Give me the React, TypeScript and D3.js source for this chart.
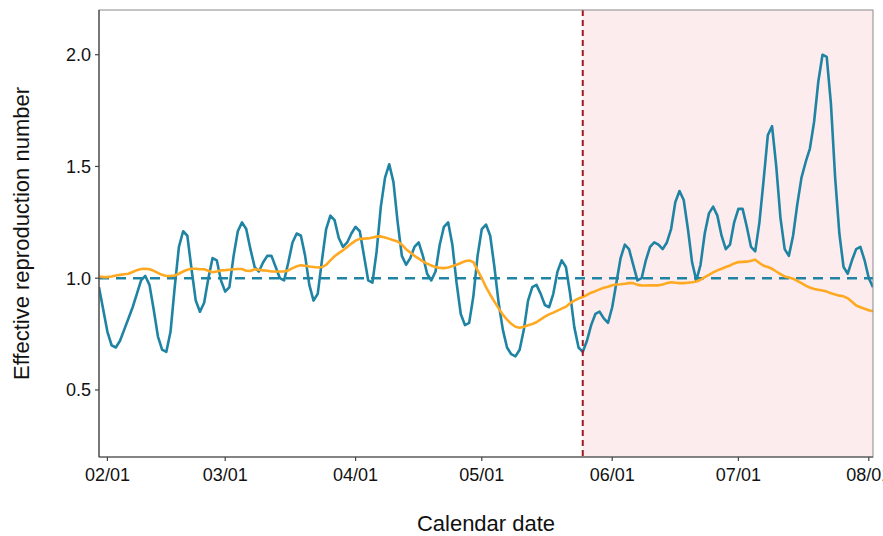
import React from "react";
import * as d3 from "d3";

const startDate = new Date(2021, 0, 30);
const endDate = new Date(2021, 7, 2);
const cutoffDate = new Date(2021, 4, 25);

const tickDates = ["2021-02-01", "2021-03-01", "2021-04-01", "2021-05-01", "2021-06-01", "2021-07-01", "2021-08-01"];
const yTicks = [0.5, 1.0, 1.5, 2.0];

// daily instantaneous Rt, from 01/30
const rtDaily = [
  0.96, 0.86, 0.76, 0.70, 0.69, 0.72, 0.77, 0.82, 0.87, 0.93,
  0.99, 1.01, 0.97, 0.86, 0.74, 0.68, 0.67, 0.76, 0.96, 1.14,
  1.21, 1.19, 1.04, 0.90, 0.85, 0.89, 1.00, 1.09, 1.08, 0.99,
  0.94, 0.96, 1.10, 1.21, 1.25, 1.22, 1.13, 1.05, 1.03, 1.07,
  1.10, 1.10, 1.05, 1.00, 0.99, 1.07, 1.16, 1.20, 1.19, 1.10,
  0.97, 0.90, 0.93, 1.08, 1.22, 1.28, 1.26, 1.18, 1.14, 1.16,
  1.20, 1.23, 1.21, 1.10, 0.99, 0.98, 1.12, 1.32, 1.45, 1.51,
  1.43, 1.25, 1.10, 1.06, 1.09, 1.14, 1.16, 1.10, 1.02, 0.99,
  1.03, 1.15, 1.23, 1.25, 1.15, 0.98, 0.84, 0.79, 0.80, 0.92,
  1.10, 1.22, 1.24, 1.19, 1.05, 0.89, 0.77, 0.69, 0.66, 0.65,
  0.68, 0.77, 0.90, 0.96, 0.97, 0.93, 0.88, 0.87, 0.93, 1.03,
  1.08, 1.05, 0.93, 0.78, 0.69, 0.67, 0.72, 0.79, 0.84, 0.85,
  0.82, 0.80, 0.87, 0.98, 1.09, 1.15, 1.13, 1.06, 0.99, 1.00,
  1.08, 1.14, 1.16, 1.15, 1.13, 1.16, 1.22, 1.34, 1.39, 1.35,
  1.22, 1.07, 0.99, 1.06, 1.20, 1.29, 1.32, 1.28, 1.19, 1.13,
  1.15, 1.25, 1.31, 1.31, 1.23, 1.14, 1.12, 1.25, 1.44, 1.64,
  1.68, 1.50, 1.27, 1.13, 1.10, 1.19, 1.33, 1.45, 1.52, 1.58,
  1.70, 1.88, 2.00, 1.99, 1.78, 1.45, 1.20, 1.05, 1.02, 1.08,
  1.13, 1.14, 1.08, 1.00, 0.96,
];

// smoothed Rt, from 01/30
const rtSmooth = [
  1.008, 1.005, 1.005, 1.008, 1.012, 1.015, 1.018, 1.020, 1.028, 1.036,
  1.041, 1.042, 1.040, 1.033, 1.024, 1.015, 1.010, 1.010, 1.012, 1.020,
  1.030, 1.038, 1.042, 1.042, 1.040, 1.040, 1.033, 1.027, 1.030, 1.035,
  1.036, 1.038, 1.040, 1.041, 1.041, 1.033, 1.032, 1.040, 1.038, 1.035,
  1.033, 1.030, 1.030, 1.030, 1.030, 1.035, 1.045, 1.053, 1.058, 1.056,
  1.052, 1.050, 1.048, 1.050, 1.060, 1.080, 1.098, 1.112, 1.125, 1.140,
  1.155, 1.168, 1.176, 1.177, 1.178, 1.182, 1.186, 1.187, 1.182, 1.176,
  1.170, 1.164, 1.150, 1.130, 1.115, 1.100, 1.088, 1.075, 1.065, 1.057,
  1.050, 1.046, 1.045, 1.048, 1.054, 1.060, 1.068, 1.076, 1.079, 1.072,
  1.035, 1.000, 0.960, 0.926, 0.895, 0.865, 0.837, 0.815, 0.796, 0.783,
  0.778, 0.783, 0.789, 0.795, 0.803, 0.816, 0.828, 0.838, 0.846, 0.855,
  0.864, 0.872, 0.888, 0.900, 0.909, 0.916, 0.925, 0.935, 0.942, 0.950,
  0.957, 0.962, 0.968, 0.972, 0.973, 0.975, 0.978, 0.978, 0.970, 0.968,
  0.967, 0.968, 0.968, 0.968, 0.972, 0.978, 0.982, 0.980, 0.978, 0.978,
  0.980, 0.982, 0.985, 0.993, 1.005, 1.015, 1.026, 1.035, 1.042, 1.050,
  1.057, 1.066, 1.072, 1.073, 1.074, 1.078, 1.083, 1.068, 1.056, 1.050,
  1.042, 1.030, 1.018, 1.008, 1.003, 0.998, 0.988, 0.978, 0.967, 0.958,
  0.952, 0.948, 0.945, 0.940, 0.933, 0.927, 0.922, 0.919, 0.910, 0.895,
  0.878, 0.870, 0.863, 0.857, 0.852,
];

const W = 883;
const H = 536;
const left = 99;
const right = 873;
const top = 10;
const bottom = 457;

const BLUE = "#1f83a3";
const ORANGE = "#ffa922";
const RED = "#a3161f";

export default function App() {
  const x = d3.scaleTime().domain([startDate, endDate]).range([left, right]);
  const y = d3.scaleLinear().domain([0.2, 2.2]).range([bottom, top]);
  const dayOf = (i: number) => d3.timeDay.offset(startDate, i);

  const line = d3
    .line<number>()
    .x((_, i) => x(dayOf(i)))
    .y((v) => y(v));

  const fmt = d3.timeFormat("%m/%d");
  const ticks = tickDates.map((s) => d3.timeParse("%Y-%m-%d")(s) as Date);
  const xc = x(cutoffDate);

  return (
    <svg
      width={W}
      height={H}
      style={{ position: "absolute", left: 0, top: 0, background: "#fff" }}
      fontFamily="'Liberation Sans', Arial, sans-serif"
    >
      <defs>
        <clipPath id="plotclip">
          <rect x={left} y={top} width={right - left} height={bottom - top} />
        </clipPath>
      </defs>
      <rect x={xc} y={top} width={right - xc} height={bottom - top} fill="#fdeced" />
      <g clipPath="url(#plotclip)">
        <line x1={left} x2={right} y1={y(1)} y2={y(1)} stroke={BLUE} strokeWidth={2.5} strokeDasharray="10,7" />
        <path d={line(rtDaily) || ""} fill="none" stroke={BLUE} strokeWidth={2.6} strokeLinejoin="round" />
        <path d={line(rtSmooth) || ""} fill="none" stroke={ORANGE} strokeWidth={2.6} strokeLinejoin="round" />
      </g>
      <line x1={xc} x2={xc} y1={top} y2={bottom} stroke={RED} strokeWidth={2} strokeDasharray="6,4" />
      <rect x={left} y={top} width={right - left} height={bottom - top} fill="none" stroke="#8a8a8a" strokeWidth={1} />
      <line x1={left} x2={left} y1={top} y2={bottom} stroke="#444" strokeWidth={1.2} />
      <line x1={left} x2={right} y1={bottom} y2={bottom} stroke="#444" strokeWidth={1.2} />
      {yTicks.map((t) => (
        <g key={t}>
          <line x1={left - 4} x2={left} y1={y(t)} y2={y(t)} stroke="#444" strokeWidth={1.2} />
          <text x={left - 8} y={y(t)} dy="0.36em" textAnchor="end" fontSize={18} fill="#111">
            {t.toFixed(1)}
          </text>
        </g>
      ))}
      {ticks.map((t, i) => (
        <g key={i}>
          <line x1={x(t)} x2={x(t)} y1={bottom} y2={bottom + 4} stroke="#444" strokeWidth={1.2} />
          <text x={x(t)} y={bottom + 24} textAnchor="middle" fontSize={18} fill="#111">
            {fmt(t)}
          </text>
        </g>
      ))}
      <text x={486} y={531} textAnchor="middle" fontSize={22} fill="#111">
        Calendar date
      </text>
      <text
        transform={`translate(29, ${(top + bottom) / 2}) rotate(-90)`}
        textAnchor="middle"
        fontSize={22}
        fill="#111"
      >
        Effective reproduction number
      </text>
    </svg>
  );
}
